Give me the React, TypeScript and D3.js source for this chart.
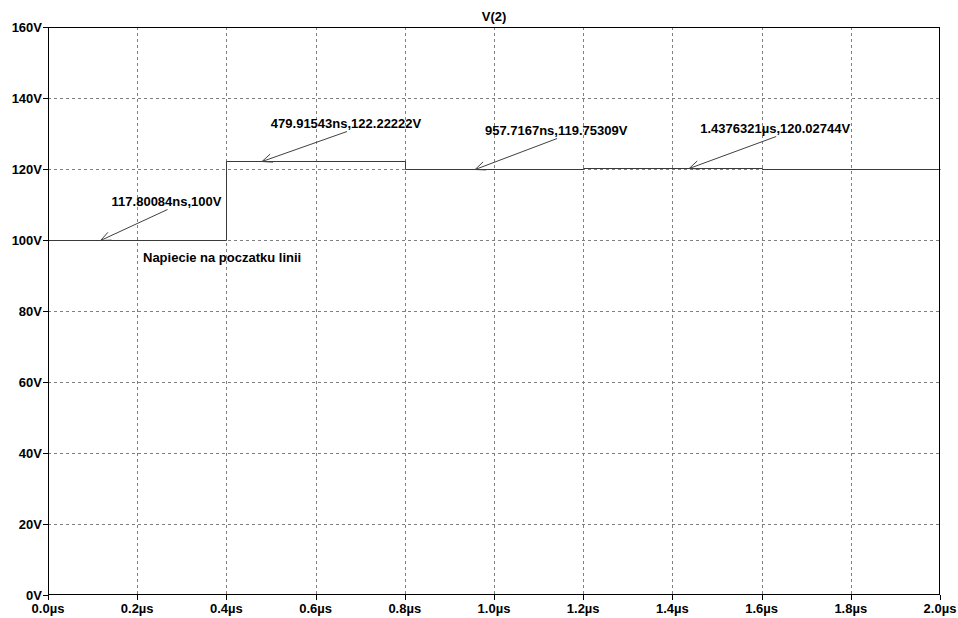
import React from "react";
import * as d3 from "d3";

// Step trace V(2): start time of each level (µs) and its voltage (V)
const stepTimes = [0, 0.4, 0.8, 1.2, 1.6, 2.0];
const stepVolts = [100, 122.22222, 119.75309, 120.02744, 119.99, 119.99];

// Cursor readouts
const cursorTimes = [0.11780084, 0.47991543, 0.9577167, 1.4376321];
const cursorVolts = [100, 122.22222, 119.75309, 120.02744];
const cursorLabels = [
  "117.80084ns,100V",
  "479.91543ns,122.22222V",
  "957.7167ns,119.75309V",
  "1.4376321µs,120.02744V",
];
// label placement relative to the cursor point
const labelOffsets: [number, number][] = [
  [66, -35],
  [84, -34],
  [81, -35],
  [86, -36],
];

const xTicks = [0, 0.2, 0.4, 0.6, 0.8, 1.0, 1.2, 1.4, 1.6, 1.8, 2.0];
const yTicks = [0, 20, 40, 60, 80, 100, 120, 140, 160];

const title = "V(2)";
const note = "Napiecie na poczatku linii";

const W = 958;
const H = 618;
const M = { left: 48, right: 18, top: 27, bottom: 23 };
const FONT = "'Liberation Sans', Arial, sans-serif";

export default function App() {
  const x = d3.scaleLinear().domain([0, 2]).range([M.left, W - M.right]);
  const y = d3.scaleLinear().domain([0, 160]).range([H - M.bottom, M.top]);

  const pts: [number, number][] = stepTimes.map((t, i) => [t, stepVolts[i]]);
  const line = d3
    .line<[number, number]>()
    .x((d) => Math.round(x(d[0])) + 0.5)
    .y((d) => Math.floor(y(d[1])) + 0.5)
    .curve(d3.curveStepAfter)(pts) as string;

  const x0 = x(0), x1 = x(2), y0 = y(0), y1 = y(160);
  const textStyle: React.CSSProperties = {
    fontFamily: FONT,
    fontSize: 13,
    fontWeight: "bold",
    fill: "#000",
  };

  return (
    <svg
      width={W}
      height={H}
      style={{ position: "absolute", left: 0, top: 0, background: "#fff" }}
    >
      {/* grid */}
      {xTicks.slice(1, -1).map((t) => (
        <line
          key={"gx" + t}
          x1={Math.round(x(t)) + 0.5}
          x2={Math.round(x(t)) + 0.5}
          y1={y1}
          y2={y0}
          stroke="#808080"
          strokeDasharray="3,3"
        />
      ))}
      {yTicks.slice(1, -1).map((v) => (
        <line
          key={"gy" + v}
          x1={x0}
          x2={x1}
          y1={Math.round(y(v)) + 0.5}
          y2={Math.round(y(v)) + 0.5}
          stroke="#808080"
          strokeDasharray="3,3"
        />
      ))}

      {/* trace */}
      <path d={line} fill="none" stroke="#3a3a3a" strokeWidth={1} />

      {/* frame */}
      <rect
        x={x0 + 0.5}
        y={y1 + 0.5}
        width={x1 - x0 - 1}
        height={y0 - y1 - 1}
        fill="none"
        stroke="#000"
        strokeWidth={1}
      />

      {/* y ticks */}
      {yTicks.map((v) => (
        <g key={"ty" + v}>
          <line
            x1={x0 - 5}
            x2={x0}
            y1={Math.round(y(v)) + 0.5}
            y2={Math.round(y(v)) + 0.5}
            stroke="#000"
          />
          <text
            x={x0 - 6}
            y={y(v) + 5}
            textAnchor="end"
            style={textStyle}
          >
            {v + "V"}
          </text>
        </g>
      ))}

      {/* x ticks */}
      {xTicks.map((t) => (
        <g key={"tx" + t}>
          <line
            x1={Math.round(x(t)) + 0.5}
            x2={Math.round(x(t)) + 0.5}
            y1={y0}
            y2={y0 + 5}
            stroke="#000"
          />
          <text x={x(t)} y={y0 + 18} textAnchor="middle" style={textStyle}>
            {t.toFixed(1) + "µs"}
          </text>
        </g>
      ))}

      {/* title */}
      <text x={(x0 + x1) / 2} y={y1 - 6} textAnchor="middle" style={textStyle}>
        {title}
      </text>

      {/* cursor annotations */}
      {cursorTimes.map((t, i) => {
        const px = x(t);
        const py = Math.floor(y(cursorVolts[i])) + 0.5;
        const [dx, dy] = labelOffsets[i];
        const lx = px + dx;
        const ly = py + dy;
        const sx = lx + 1;
        const sy = ly + 4;
        const ang = Math.atan2(sy - py, sx - px);
        const head = 11;
        const spread = 0.4;
        const h1x = px + head * Math.cos(ang - spread);
        const h1y = py + head * Math.sin(ang - spread);
        const h2x = px + head * Math.cos(ang + spread);
        const h2y = py + head * Math.sin(ang + spread);
        return (
          <g key={"c" + i}>
            <line x1={sx} y1={sy} x2={px} y2={py} stroke="#404040" />
            <polyline
              points={`${h1x},${h1y} ${px},${py} ${h2x},${h2y}`}
              fill="none"
              stroke="#404040"
            />
            <text x={lx} y={ly} textAnchor="middle" style={textStyle}>
              {cursorLabels[i]}
            </text>
          </g>
        );
      })}

      {/* trace note */}
      <text x={143} y={262} style={textStyle}>
        {note}
      </text>
    </svg>
  );
}
